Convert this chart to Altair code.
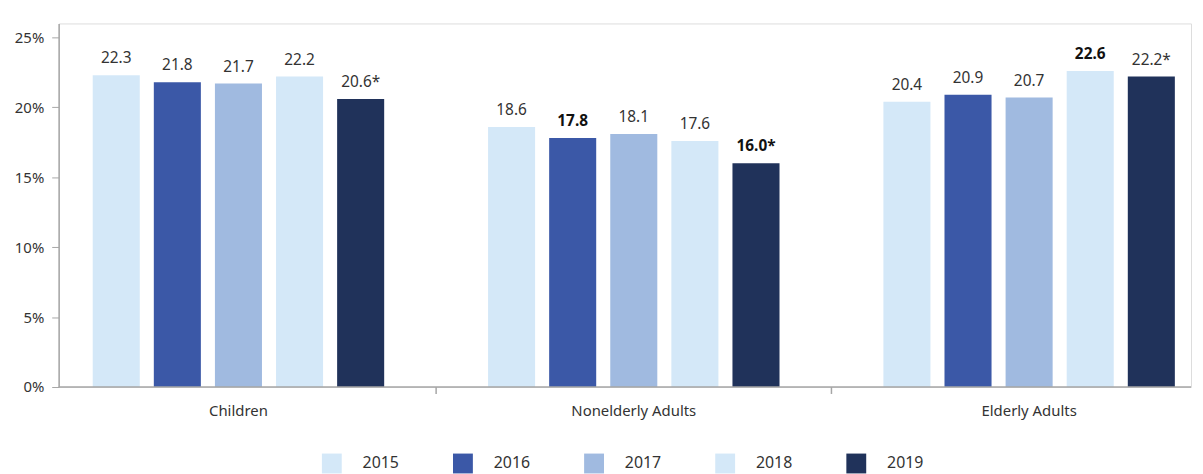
import altair as alt
import pandas as pd

groups = ["Children", "Nonelderly Adults", "Elderly Adults"]
years = ["2015", "2016", "2017", "2018", "2019"]
values = {
    "Children": [22.3, 21.8, 21.7, 22.2, 20.6],
    "Nonelderly Adults": [18.6, 17.8, 18.1, 17.6, 16.0],
    "Elderly Adults": [20.4, 20.9, 20.7, 22.6, 22.2],
}
labels = {
    "Children": ["22.3", "21.8", "21.7", "22.2", "20.6*"],
    "Nonelderly Adults": ["18.6", "17.8", "18.1", "17.6", "16.0*"],
    "Elderly Adults": ["20.4", "20.9", "20.7", "22.6", "22.2*"],
}
bold = {
    "Children": [False, False, False, False, False],
    "Nonelderly Adults": [False, True, False, False, True],
    "Elderly Adults": [False, False, False, True, False],
}
colors = ["#d4e8f8", "#3b58a7", "#a0bae0", "#d4e8f8", "#20325a"]

rows = []
for g in groups:
    for i, y in enumerate(years):
        rows.append({"group": g, "year": y, "value": values[g][i],
                     "label": labels[g][i], "bold": bold[g][i]})
df = pd.DataFrame(rows)

W, H = 1140, 366
FONT = "Noto Sans"

xenc = alt.X("group:N", sort=groups,
             scale=alt.Scale(range=[-18, 1176], paddingInner=0, paddingOuter=0),
             axis=alt.Axis(title=None, domain=False, ticks=False, labelFontSize=15,
                           labelAngle=0, labelColor="#333333", labelPadding=17,
                           labelFont=FONT))
xoff = alt.XOffset("year:N", sort=years,
                   scale=alt.Scale(paddingInner=0.23, paddingOuter=0.85))

base = alt.Chart(df)

bars = base.mark_bar().encode(
    x=xenc,
    xOffset=xoff,
    y=alt.Y("value:Q", scale=alt.Scale(domain=[0, 25]),
            axis=alt.Axis(title=None, values=[0, 5, 10, 15, 20, 25], grid=False,
                          labelExpr="datum.value + '%'", labelFontSize=15,
                          labelColor="#333333", labelFont=FONT, labelPadding=8,
                          tickSize=7, tickColor="#a6a6a6", domainColor="#a6a6a6",
                          domainWidth=1.5)),
    color=alt.Color("year:N", sort=years,
                    scale=alt.Scale(domain=years, range=colors),
                    legend=alt.Legend(title=None, orient="none", direction="horizontal",
                                      legendX=265, legendY=433,
                                      symbolType="square", symbolSize=400,
                                      symbolStrokeWidth=0, labelFontSize=16,
                                      labelFont=FONT, labelColor="#333333",
                                      labelOffset=21, columnPadding=54)),
)

txt_normal = base.transform_filter("!datum.bold").mark_text(
    baseline="bottom", dy=-9, fontSize=15.5, font=FONT, color="#333333"
).encode(x=xenc, xOffset=xoff, y="value:Q", text="label:N")

txt_bold = base.transform_filter("datum.bold").mark_text(
    baseline="bottom", dy=-9, fontSize=15.5, font=FONT, color="#111111", fontWeight="bold"
).encode(x=xenc, xOffset=xoff, y="value:Q", text="label:N")

axis_line = alt.Chart(pd.DataFrame({"a": [0]})).mark_rule(
    color="#a6a6a6", strokeWidth=1.5
).encode(x=alt.value(0), x2=alt.value(W), y=alt.value(H))

bounds = pd.DataFrame({"group": ["Nonelderly Adults", "Elderly Adults"]})
ticks = alt.Chart(bounds).mark_rule(color="#a6a6a6", strokeWidth=1.5).encode(
    x=alt.X("group:N", sort=groups, bandPosition=0),
    y=alt.value(H), y2=alt.value(H + 7))

chart = alt.layer(bars, txt_normal, txt_bold, axis_line, ticks).properties(
    width=W, height=H,
    autosize=alt.AutoSizeParams(type="none"),
    padding={"left": 51, "top": 14, "right": 4, "bottom": 86},
).configure_view(strokeWidth=0, stroke="transparent").configure(background="white")

chart.save("out.html", embed_options={"renderer": "svg", "actions": False})
